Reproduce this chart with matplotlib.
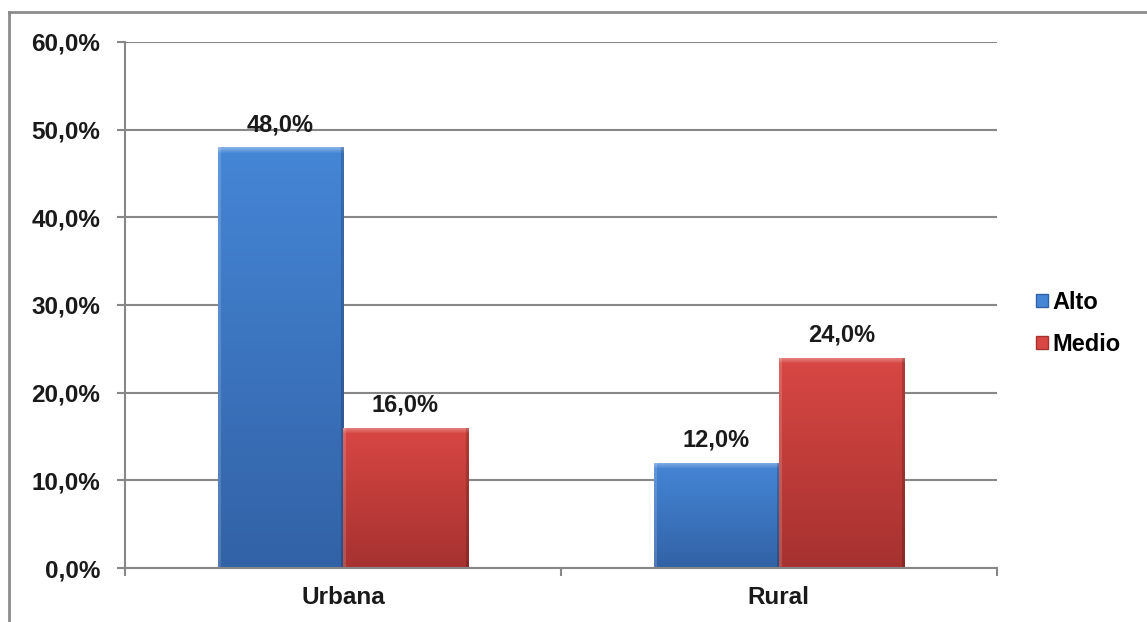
import numpy as np
import matplotlib.pyplot as plt
from matplotlib.colors import to_rgb
from matplotlib.patches import Patch
from matplotlib.lines import Line2D

# Datos
categorias = ['Urbana', 'Rural']
alto = [48.0, 12.0]
medio = [16.0, 24.0]
series = ['Alto', 'Medio']

plt.rcParams['font.family'] = ['Liberation Sans', 'DejaVu Sans']
plt.rcParams['font.weight'] = 'bold'

fig = plt.figure(figsize=(11.47, 6.22), dpi=100)
ax = fig.add_axes([0.109, 0.0868, 0.760, 0.8457])

gris = '#878787'
ancho = 0.287
x = np.arange(len(categorias))

# Colores: (arriba, abajo) para el degradado de cada serie
colores = {
    'Alto': ('#4586d6', '#3262a6'),
    'Medio': ('#d84743', '#a63230'),
}


def degradado(c_top, c_bot, alto_px, ancho_px=125):
    top = np.array(to_rgb(c_top))
    bot = np.array(to_rgb(c_bot))
    ny = max(int(alto_px), 2)
    t = np.linspace(0, 1, ny)[:, None, None]
    img = top * (1 - t) + bot * t
    img = np.repeat(img, ancho_px, axis=1)
    # bisel: borde superior e izquierdo más claros, derecho más oscuro
    bisel = min(6, ny)
    for i in range(bisel):
        f = 0.35 * (1 - i / bisel)
        img[i] = img[i] * (1 - f) + f
    img[:, :3] = img[:, :3] * 0.85 + 0.15
    img[:, -3:] = img[:, -3:] * 0.82
    return np.clip(img, 0, 1)


def dibujar_barras(pos, valores, serie):
    c_top, c_bot = colores[serie]
    barras = ax.bar(pos, valores, ancho, color=c_bot, edgecolor='none', zorder=3)
    for b, v in zip(barras, valores):
        x0 = b.get_x()
        img = degradado(c_top, c_bot, v / 60 * 526)
        im = ax.imshow(img, extent=(x0, x0 + ancho, 0, v), aspect='auto',
                       origin='upper', zorder=3.5, interpolation='bilinear')
        im.set_clip_path(b)
        ax.annotate(f'{v:.1f}%'.replace('.', ','), (b.get_x() + ancho / 2, v),
                    xytext=(0, 8), textcoords='offset points', ha='center',
                    va='bottom', fontsize=17, fontweight='bold', color='#1a1a1a')


dibujar_barras(x - ancho / 2, alto, 'Alto')
dibujar_barras(x + ancho / 2, medio, 'Medio')

ax.set_xlim(-0.5, 1.5)
ax.set_ylim(0, 60)
ax.set_yticks(np.arange(0, 61, 10))
ax.set_yticklabels([f'{v:.1f}%'.replace('.', ',') for v in np.arange(0, 61, 10)])
ax.set_xticks(x)
ax.set_xticklabels(categorias)
ax.set_xticks([-0.5, 0.5, 1.5], minor=True)
ax.tick_params(axis='x', which='major', length=0, pad=13, labelsize=17.5)
ax.tick_params(axis='x', which='minor', length=6, width=1.5, color=gris)
ax.tick_params(axis='y', length=6, width=1.5, color=gris, pad=12, labelsize=17.5)
for lbl in ax.get_xticklabels() + ax.get_yticklabels():
    lbl.set_fontweight('bold')
    lbl.set_color('#1a1a1a')

ax.yaxis.grid(True, color=gris, linewidth=1.5, zorder=0)
ax.set_axisbelow(True)
for s in ['top', 'right']:
    ax.spines[s].set_visible(False)
for s in ['left', 'bottom']:
    ax.spines[s].set_color(gris)
    ax.spines[s].set_linewidth(1.5)
    ax.spines[s].set_zorder(4)

handles = [Patch(facecolor=colores[s][0], edgecolor=colores[s][1]) for s in series]
fig.legend(handles, series, loc='center left', bbox_to_anchor=(0.885, 0.48),
           frameon=False, handlelength=0.5, handleheight=0.5, handletextpad=0.2,
           labelspacing=0.8, prop={'size': 17, 'weight': 'bold'})

# marco del gráfico (bordes superior e izquierdo)
fig.add_artist(Line2D([0.008, 1.0], [0.981, 0.981], color='#8c8c8c', lw=2,
                      transform=fig.transFigure))
fig.add_artist(Line2D([0.008, 0.008], [0.0, 0.981], color='#8c8c8c', lw=2,
                      transform=fig.transFigure))

fig.savefig('out.png', dpi=100)
